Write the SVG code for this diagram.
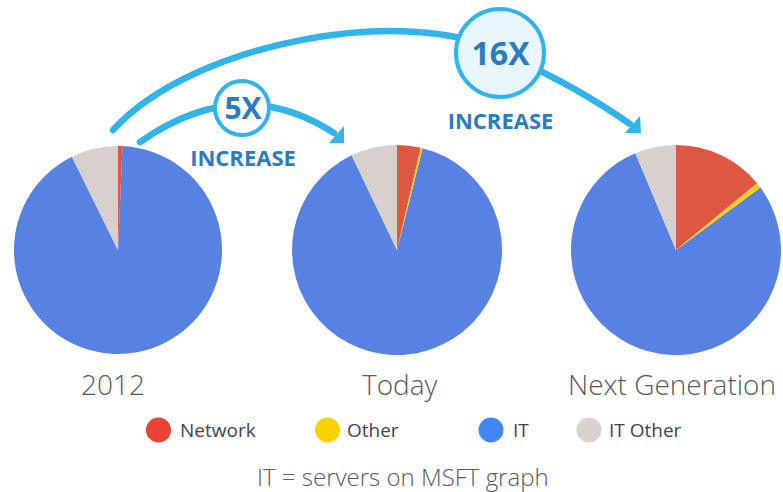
<svg xmlns="http://www.w3.org/2000/svg" width="783" height="492" viewBox="0 0 783 492">
  <style>
    .it { fill: #5782e1; }
    .net { fill: #dd5741; }
    .oth { fill: #f6cf1c; }
    .ito { fill: #d8d0cd; }
    .title { font-family: "Open Sans", "Liberation Sans", sans-serif; font-weight: 300; font-size: 28px; fill: #595959; }
    .leg { font-family: "Open Sans", "Liberation Sans", sans-serif; font-size: 19px; fill: #3f444a; }
    .foot { font-family: "Open Sans", "Liberation Sans", sans-serif; font-weight: 300; font-size: 24px; fill: #595959; }
    .arc { fill: none; stroke: #30b4e9; stroke-width: 6.5; stroke-linecap: round; }
    .ah { fill: #30b4e9; }
    .badge { stroke: #30b4e9; stroke-width: 4; }
    .big { font-family: "Open Sans", "Liberation Sans", sans-serif; font-weight: 700; fill: #2a7cbf; text-anchor: middle; }
  </style>

  <!-- Pies -->
  <g id="pie-2012">
    <path class="it" d="M118,250 L122.54,146.1 A104,104 0 1 1 71.92,156.76 Z"/>
    <path class="ito" d="M118,250 L71.92,156.76 A104,104 0 0 1 118,146 Z"/>
    <path class="net" d="M118,250 L118,146 A104,104 0 0 1 122.54,146.1 Z"/>
  </g>
  <g id="pie-today">
    <path class="it" d="M397,250 L422.58,148.16 A105,105 0 1 1 351.63,155.31 Z"/>
    <path class="ito" d="M397,250 L351.63,155.31 A105,105 0 0 1 397,145 Z"/>
    <path class="net" d="M397,250 L397,145 A105,105 0 0 1 420.8,147.73 Z"/>
    <path class="oth" d="M397,250 L420.8,147.73 A105,105 0 0 1 422.58,148.16 Z"/>
  </g>
  <g id="pie-next">
    <path class="it" d="M676,250 L760.41,187.55 A105,105 0 1 1 635.31,153.2 Z"/>
    <path class="ito" d="M676,250 L635.31,153.2 A105,105 0 0 1 676,145 Z"/>
    <path class="net" d="M676,250 L676,145 A105,105 0 0 1 757.13,183.36 Z"/>
    <path class="oth" d="M676,250 L757.13,183.36 A105,105 0 0 1 760.41,187.55 Z"/>
  </g>

  <!-- Connectors -->
  <g id="connectors">
    <path class="arc" d="M140,142 Q240,72 334,133"/>
    <polygon class="ah" points="329,143 344,126 344,143"/>
    <path class="arc" d="M113,130 C195,40 410,5 500,52 Q575,85 630,124"/>
    <polygon class="ah" points="625,133 640,116 641,133"/>
  </g>

  <!-- Badges -->
  <g id="badge-5x">
    <circle class="badge" cx="242" cy="108" r="27" fill="#ffffff"/>
    <text class="big" x="243" y="118.5" font-size="30">5X</text>
    <text class="big" x="243" y="166" font-size="22">INCREASE</text>
  </g>
  <g id="badge-16x">
    <circle class="badge" cx="500" cy="53" r="44" fill="#e7f5fc"/>
    <text class="big" x="500.5" y="65" font-size="32">16X</text>
    <text class="big" x="500.5" y="129" font-size="22">INCREASE</text>
  </g>

  <!-- Titles -->
  <g id="label-2012"><text class="title" x="81" y="395">2012</text></g>
  <g id="label-today"><text class="title" x="362" y="395">Today</text></g>
  <g id="label-next"><text class="title" x="568" y="395">Next Generation</text></g>

  <!-- Legend -->
  <g id="legend-network">
    <circle cx="158.5" cy="430" r="12.5" fill="#ea4335"/>
    <text class="leg" x="180" y="437">Network</text>
  </g>
  <g id="legend-other">
    <circle cx="327.5" cy="430" r="12.5" fill="#fbd200"/>
    <text class="leg" x="347" y="437">Other</text>
  </g>
  <g id="legend-it">
    <circle cx="491" cy="430" r="12.5" fill="#4285f4"/>
    <text class="leg" x="513" y="437">IT</text>
  </g>
  <g id="legend-itother">
    <circle cx="589" cy="430" r="12.5" fill="#d9d2cf"/>
    <text class="leg" x="609" y="437">IT Other</text>
  </g>

  <g id="footer">
    <text class="foot" x="257" y="485.5">IT = servers on MSFT graph</text>
  </g>
</svg>
